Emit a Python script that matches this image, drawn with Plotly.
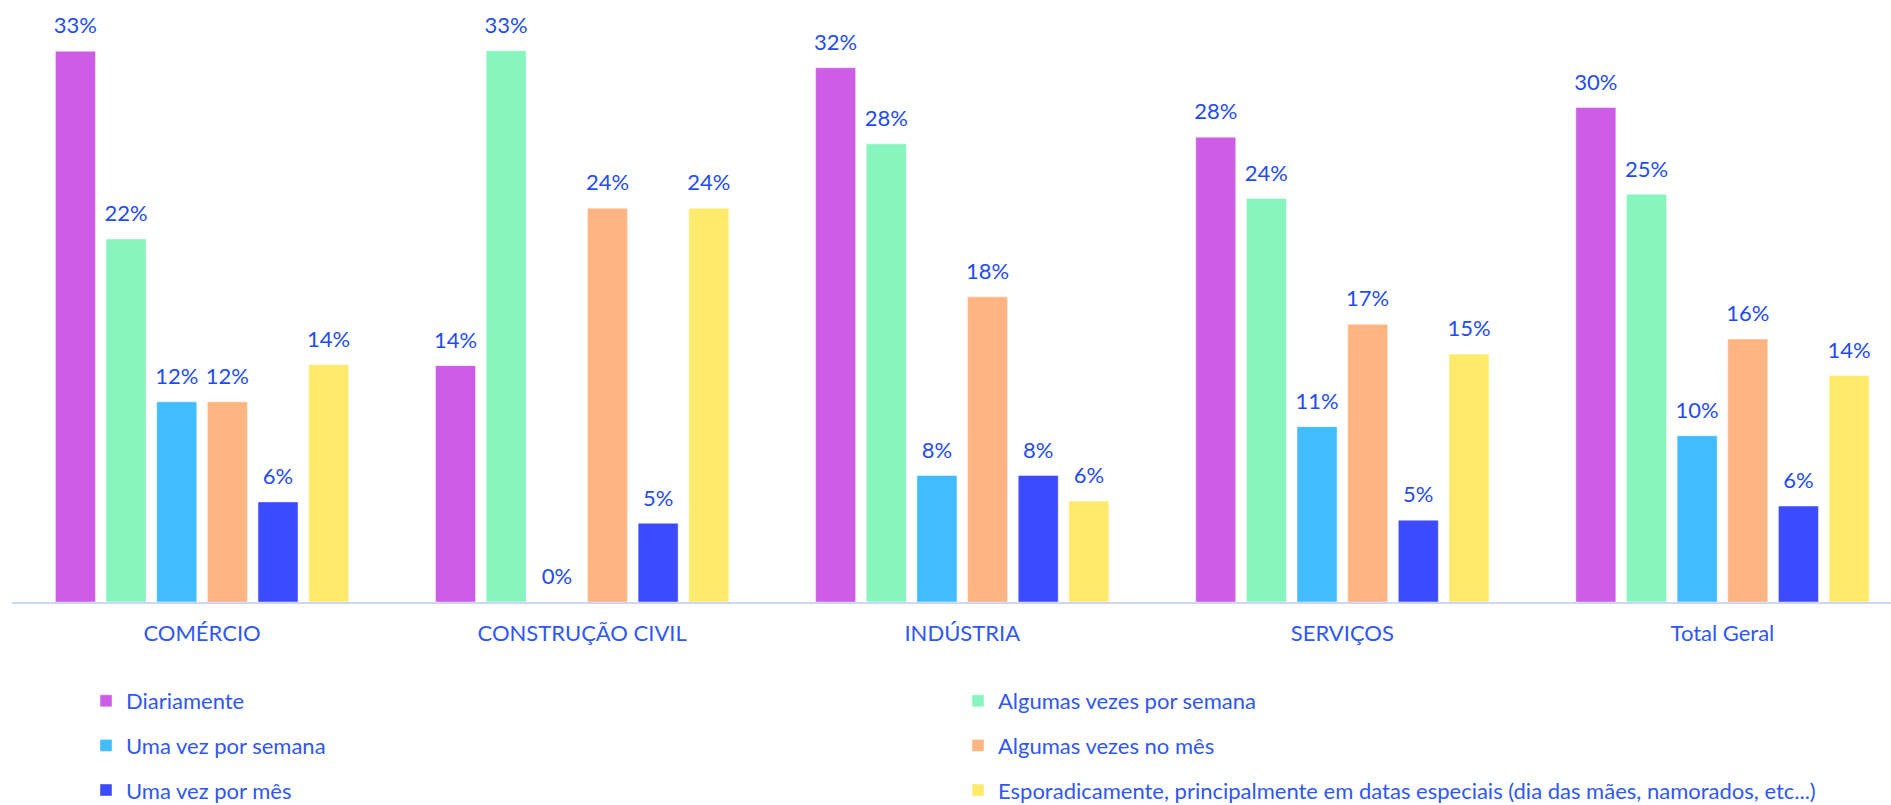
import plotly.graph_objects as go

categories = ["COMÉRCIO", "CONSTRUÇÃO CIVIL", "INDÚSTRIA", "SERVIÇOS", "Total Geral"]

series_names = [
    "Diariamente",
    "Algumas vezes por semana",
    "Uma vez por semana",
    "Algumas vezes no mês",
    "Uma vez por mês",
    "Esporadicamente, principalmente em datas especiais (dia das mães, namorados, etc...)",
]

diariamente = [33.3, 14.29, 32.3, 28.1, 29.9]
algumas_semana = [21.95, 33.33, 27.7, 24.4, 24.65]
uma_semana = [12.1, 0.0, 7.65, 10.6, 10.05]
algumas_mes = [12.1, 23.81, 18.45, 16.8, 15.9]
uma_mes = [6.05, 4.76, 7.65, 4.95, 5.8]
esporadicamente = [14.35, 23.81, 6.1, 15.0, 13.7]

series_values = [diariamente, algumas_semana, uma_semana, algumas_mes, uma_mes, esporadicamente]
colors = ["#CD5CE6", "#87F5BE", "#42BBFF", "#FFB482", "#3C4BFF", "#FFEA6B"]
legend_ids = ["legend", "legend2", "legend", "legend2", "legend", "legend2"]

FONT = "Lato, 'Open Sans', sans-serif"
LABEL_COLOR = "#1F4CF2"
TEXT_COLOR = "#2F57F5"
FS = 22

fig = go.Figure()

for i, (name, vals, col) in enumerate(zip(series_names, series_values, colors)):
    fig.add_trace(go.Bar(
        x=categories, y=vals, name=name,
        marker=dict(color=col, line=dict(color="rgba(255,255,255,0.45)", width=1)),
        legend=legend_ids[i], legendgroup=f"g{i}",
        offsetgroup=str(i), alignmentgroup="a",
        hoverinfo="skip",
    ))

for i, (vals, col) in enumerate(zip(series_values, colors)):
    fig.add_trace(go.Scatter(
        x=categories, y=vals, mode="markers+text",
        text=[f"{v:.0f}%" for v in vals], textposition="top center",
        textfont=dict(family=FONT, size=FS, color=LABEL_COLOR),
        marker=dict(size=18, color="rgba(0,0,0,0)"),
        offsetgroup=str(i), alignmentgroup="a",
        showlegend=False, hoverinfo="skip", cliponaxis=False,
    ))

W, H = 1891, 805
ml, mb = 12, 203
cat_px = 380.1
plot_w = W - ml
plot_h = H - mb

fig.update_layout(
    width=W, height=H,
    margin=dict(l=ml, r=0, t=0, b=mb, pad=0, autoexpand=False),
    paper_bgcolor="white", plot_bgcolor="white",
    barmode="group", bargap=0.2005, bargroupgap=0.21,
    scattermode="group", scattergap=0.2005,
    font=dict(family=FONT, size=FS, color=TEXT_COLOR),
    xaxis=dict(
        type="category", range=[-0.5, -0.5 + plot_w / cat_px], autorange=False,
        showline=True, linecolor="#CCD6FB", linewidth=2,
        ticks="outside", ticklen=11, tickcolor="rgba(0,0,0,0)",
        showgrid=False, zeroline=False,
        tickfont=dict(family=FONT, size=FS, color=TEXT_COLOR),
    ),
    yaxis=dict(
        range=[0, plot_h / 16.54], autorange=False,
        showticklabels=False, showgrid=False, zeroline=False, showline=False,
    ),
    legend=dict(
        orientation="v", x=(86 - ml) / plot_w, xanchor="left",
        y=(plot_h - 680) / plot_h, yanchor="top", tracegroupgap=13,
        font=dict(family=FONT, size=FS, color=TEXT_COLOR), bgcolor="rgba(0,0,0,0)",
    ),
    legend2=dict(
        orientation="v", x=(958 - ml) / plot_w, xanchor="left",
        y=(plot_h - 680) / plot_h, yanchor="top", tracegroupgap=13,
        font=dict(family=FONT, size=FS, color=TEXT_COLOR), bgcolor="rgba(0,0,0,0)",
    ),
)

fig.write_html("out.html")
